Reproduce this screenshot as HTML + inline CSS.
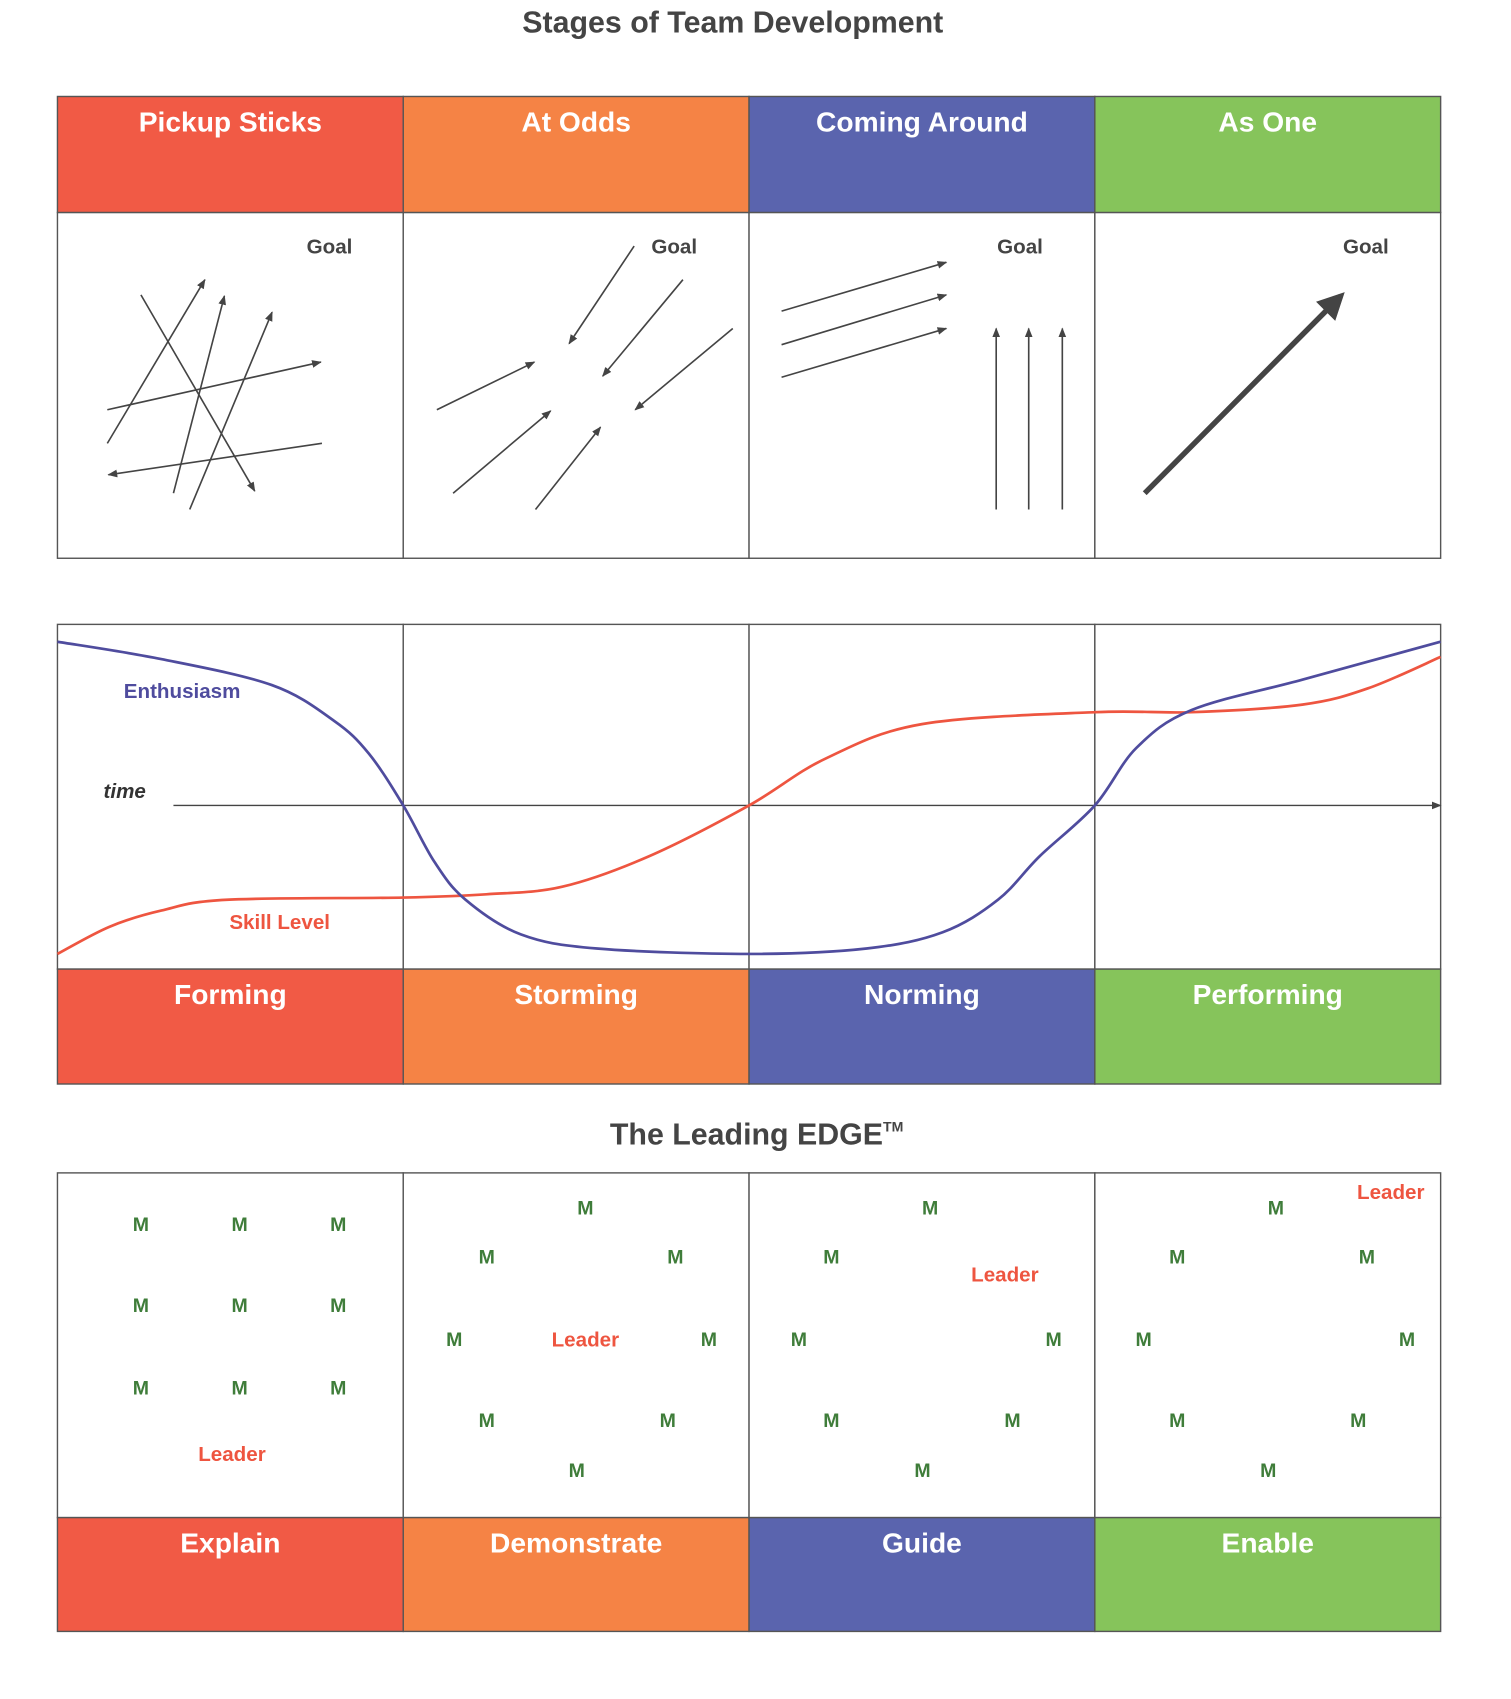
<!DOCTYPE html>
<html><head><meta charset="utf-8"><style>
html,body{margin:0;padding:0;background:#fff;}
svg{display:block;}
text{font-family:"Liberation Sans",Arial,sans-serif;font-weight:bold;}
</style></head><body>
<svg id="root" width="1511" height="1699" viewBox="0 0 1511 1699" xmlns="http://www.w3.org/2000/svg">
<defs>
<marker id="ah" viewBox="0 0 10 10" refX="9" refY="5" markerWidth="9" markerHeight="9" markerUnits="userSpaceOnUse" orient="auto"><path d="M0,1 L10,5 L0,9 Z" fill="#444"/></marker>
<marker id="ahb" viewBox="0 0 10 10" refX="8" refY="5" markerWidth="5" markerHeight="5" orient="auto"><path d="M0,0 L10,5 L0,10 Z" fill="#444"/></marker>
</defs>
<g id="main" transform="scale(1.084)">
<text x="676" y="21" font-size="28" fill="#444" text-anchor="middle" dominant-baseline="central">Stages of Team Development</text>
<g id="topgrp"></g>
<g id="chart"></g>
<text x="698" y="1047" font-size="28" fill="#444" text-anchor="middle" dominant-baseline="central">The Leading EDGE<tspan font-size="13" dy="-8">TM</tspan></text>
<g id="bottom"></g>
</g>
</svg>
<script>
const NS="http://www.w3.org/2000/svg";
const colors=["#F15A45","#F58345","#5A64AE","#86C45B"];
const topLabels=["Pickup Sticks","At Odds","Coming Around","As One"];
const stageLabels=["Forming","Storming","Norming","Performing"];
const edgeLabels=["Explain","Demonstrate","Guide","Enable"];
// chart data: x in stage units (0..4), y relative to time axis (positive = up)
const enthX=[0,0.3,0.62,0.8,0.9,1,1.09,1.18,1.34,1.56,2,2.34,2.56,2.72,2.84,3,3.12,3.28,3.6,4];
const enthY=[151,135,111,78,48,0,-52,-87,-119,-132,-137,-132,-117,-87,-47,0,53,88,116,151];
const skillX=[0,0.15,0.3,0.49,1,1.24,1.46,1.71,2,2.22,2.5,3,3.28,3.6,3.79,4];
const skillY=[-137,-112,-97,-87,-85,-82,-75,-47,0,43,75,86,86,93,108,137];
const LEFT=53,COLW=319,RIGHT=1329;
function el(tag,attrs,parent){const e=document.createElementNS(NS,tag);for(const k in attrs)e.setAttribute(k,attrs[k]);parent.appendChild(e);return e;}
function txt(parent,x,y,s,size,fill,name,extra){const t=el('text',Object.assign({x:x,y:y,'font-size':size,fill:fill,'text-anchor':'middle','dominant-baseline':'central'},extra||{}),parent);t.textContent=s;return t;}
function headerRow(parent,y,h,labels,prefix){labels.forEach((l,i)=>{const r=el('rect',{x:LEFT+i*COLW,y:y,width:COLW,height:h,fill:colors[i],stroke:'#555','stroke-width':1.3},parent);txt(parent,LEFT+i*COLW+COLW/2,y+23,l,26,'#fff',prefix+'-label-'+(i+1));});}
function cells(parent,y,h,prefix){for(let i=0;i<4;i++){const r=el('rect',{x:LEFT+i*COLW,y:y,width:COLW,height:h,fill:'#fff',stroke:'#555','stroke-width':1.3},parent);}}
const topG=document.getElementById('topgrp');
cells(topG,196,319,'goal-panel');
headerRow(topG,89,107,topLabels,'top');
[304,622,941,1260].forEach((x,i)=>txt(topG,x,228,'Goal',19,'#444','goal-label-'+(i+1)));
const arrows=[
[130,272,235,453],[99,409,189,258],[160,455,207,273],[175,470,251,288],[99,378,296,334],[297,409,100,438],
[585,227,525,317],[630,258,556,347],[676,303,586,378],[403,378,493,334],[418,455,508,379],[494,470,554,394],
[721,287,873,242],[721,318,873,272],[721,348,873,303],[919,470,919,303],[949,470,949,303],[980,470,980,303]];
arrows.forEach((a,i)=>{const l=el('line',{x1:a[0],y1:a[1],x2:a[2],y2:a[3],stroke:'#444','stroke-width':1.5,'marker-end':'url(#ah)'},topG);});
const big=el('line',{x1:1056,y1:455,x2:1237,y2:273,stroke:'#444','stroke-width':5,'marker-end':'url(#ahb)'},topG);

// chart
const ch=document.getElementById('chart');
const AXY=743;
const sx=v=>LEFT+v*COLW, sy=v=>AXY-v;
cells(ch,576,318,'chart');
const ax=el('line',{x1:160,y1:AXY,x2:RIGHT,y2:AXY,stroke:'#444','stroke-width':1.3,'marker-end':'url(#ah)'},ch);

txt(ch,115,730,'time',19,'#333','time-label',{'font-style':'italic'});
function smooth(xs,ys){const p=xs.map((x,i)=>[sx(x),sy(ys[i])]);let d='M'+p[0][0]+','+p[0][1];for(let i=0;i<p.length-1;i++){const p0=p[i-1]||p[i],p1=p[i],p2=p[i+1],p3=p[i+2]||p2;d+=' C'+(p1[0]+(p2[0]-p0[0])/6)+','+(p1[1]+(p2[1]-p0[1])/6)+' '+(p2[0]-(p3[0]-p1[0])/6)+','+(p2[1]-(p3[1]-p1[1])/6)+' '+p2[0]+','+p2[1];}return d;}
const sk=el('path',{d:smooth(skillX,skillY),fill:'none',stroke:'#EE5540','stroke-width':2.5},ch);

const en=el('path',{d:smooth(enthX,enthY),fill:'none',stroke:'#4F4C9E','stroke-width':2.5},ch);

txt(ch,168,638,'Enthusiasm',19,'#4F4C9E','enthusiasm-label');
txt(ch,258,851,'Skill Level',19,'#EE5540','skill-level-label');
headerRow(ch,894,106,stageLabels,'stage');
// bottom
const botG=document.getElementById('bottom');
cells(botG,1082,318,'edge');
headerRow(botG,1400,105,edgeLabels,'edge');
const ms=[[130,1130],[221,1130],[312,1130],[130,1205],[221,1205],[312,1205],[130,1281],[221,1281],[312,1281],
[540,1115],[449,1160],[623,1160],[419,1236],[654,1236],[449,1311],[616,1311],[532,1357],
[858,1115],[767,1160],[737,1236],[972,1236],[767,1311],[934,1311],[851,1357],
[1177,1115],[1086,1160],[1261,1160],[1055,1236],[1298,1236],[1086,1311],[1253,1311],[1170,1357]];
ms.forEach((m,i)=>txt(botG,m[0],m[1],'M',18,'#3F7D3A','member-'+(i+1)));
[[214,1342],[540,1236],[927,1176],[1283,1100]].forEach((m,i)=>txt(botG,m[0],m[1],'Leader',19,'#EE5540','leader-'+(i+1)));
</script>
</body></html>
